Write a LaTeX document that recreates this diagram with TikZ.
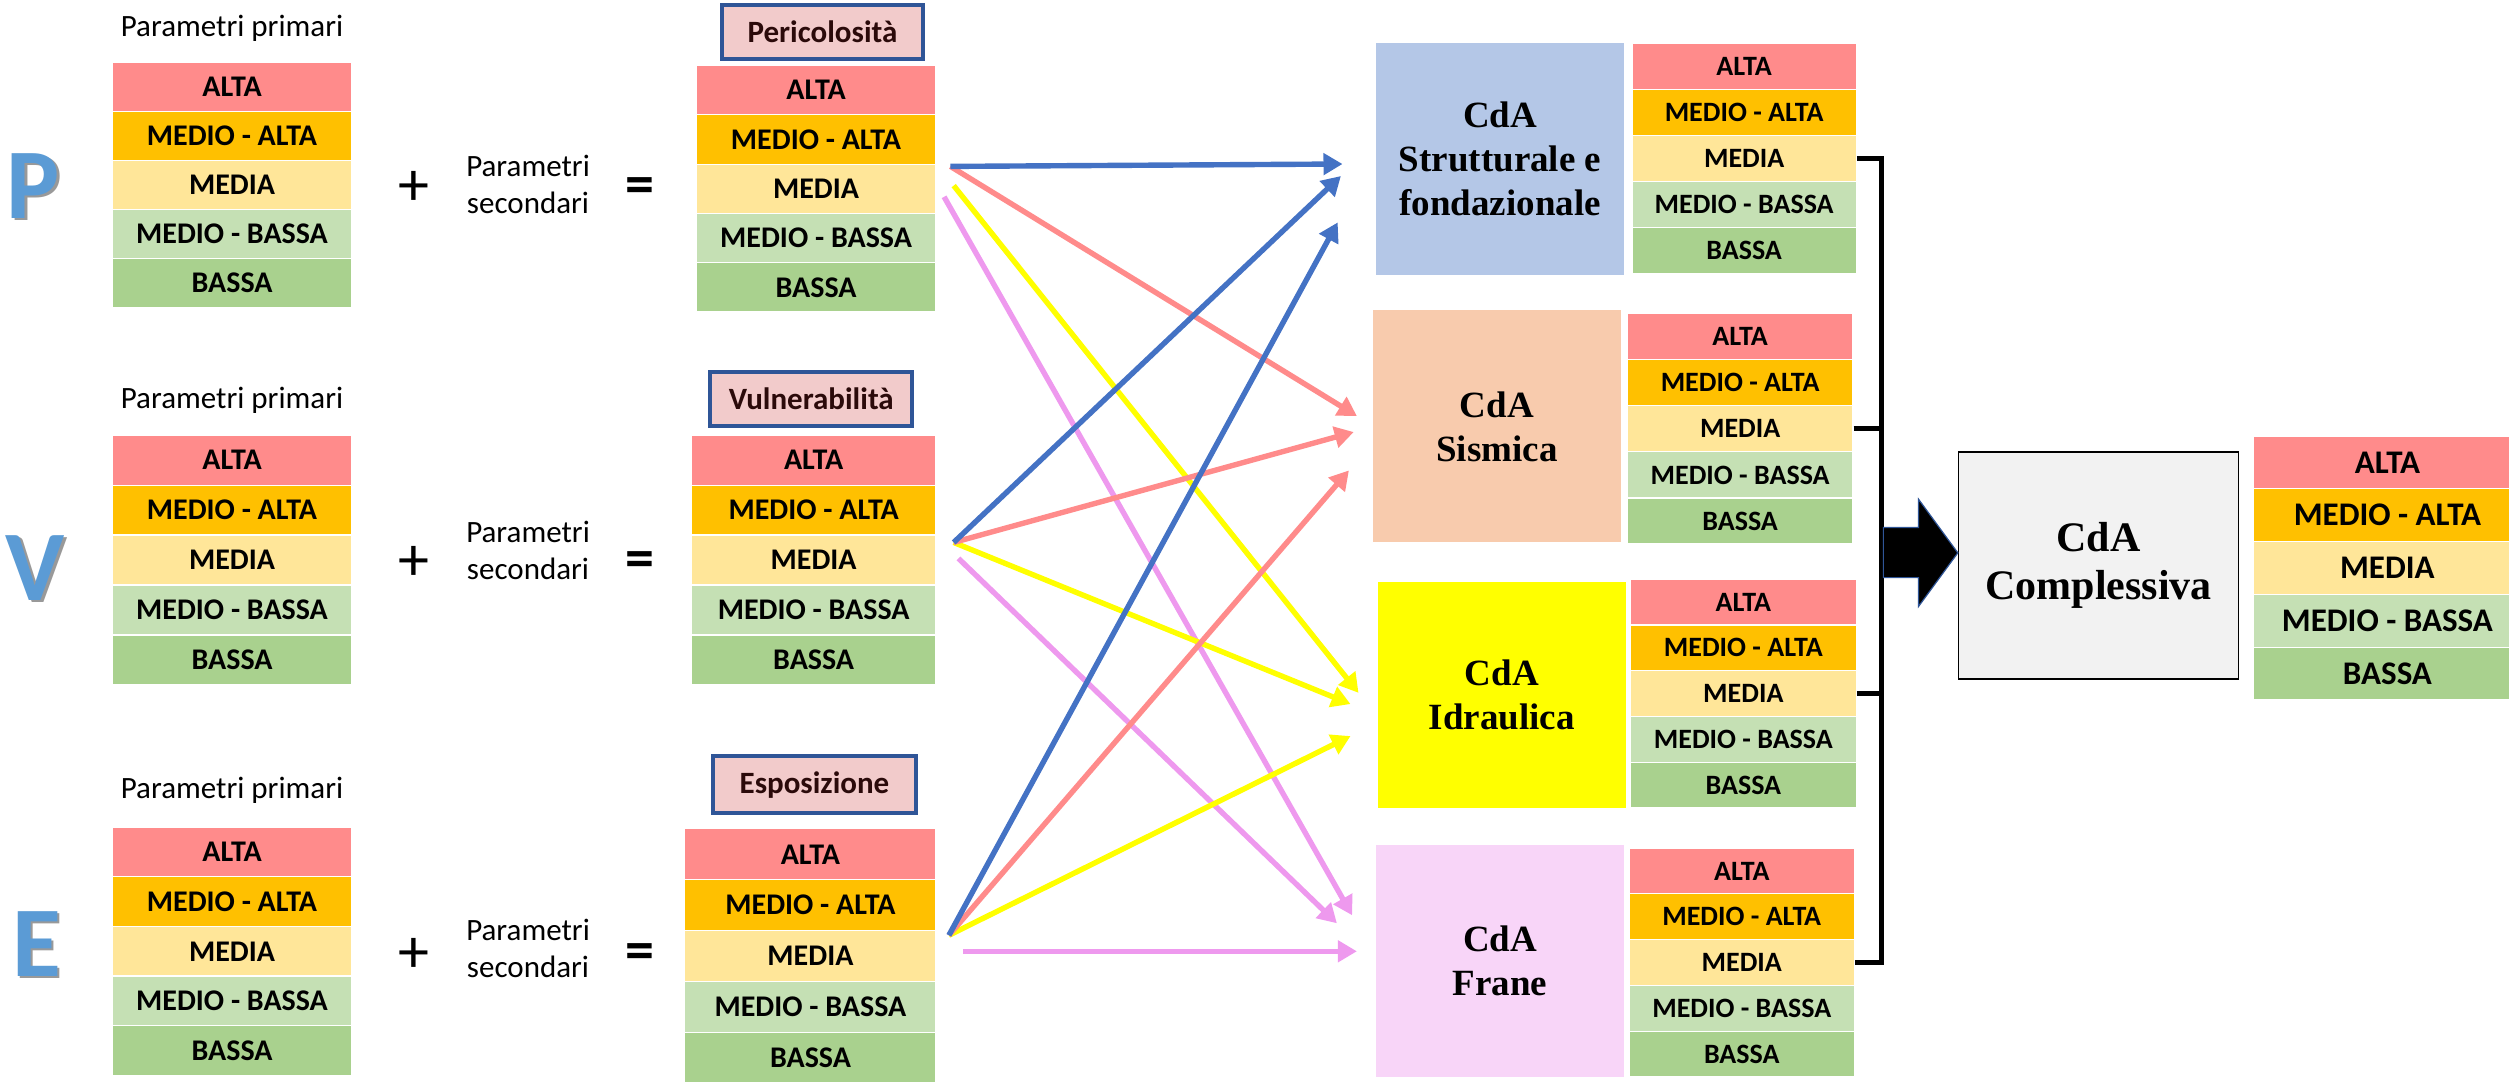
\documentclass[tikz,border=0pt]{standalone}
\usepackage{fontspec}
\setmainfont{Carlito}
\newfontfamily\tnr{Liberation Serif}
\usetikzlibrary{arrows.meta}

% level colours
\definecolor{lvA}{HTML}{FF8B8B}
\definecolor{lvMA}{HTML}{FFC000}
\definecolor{lvM}{HTML}{FFE699}
\definecolor{lvMB}{HTML}{C5E0B4}
\definecolor{lvB}{HTML}{A9D18E}
% connector colours
\definecolor{arBlue}{HTML}{4472C4}
\definecolor{arRed}{HTML}{FF8B8B}
\definecolor{arYel}{HTML}{FFFF00}
\definecolor{arVio}{HTML}{EE99EE}
% other colours
\definecolor{letterBlue}{HTML}{5B9BD5}
\definecolor{titleFill}{HTML}{F2CBCB}
\definecolor{titleEdge}{HTML}{2F5597}
\definecolor{titleText}{HTML}{2B0A0A}
\definecolor{cdaStr}{HTML}{B4C7E7}
\definecolor{cdaSis}{HTML}{F8CBAD}
\definecolor{cdaIdr}{HTML}{FFFF00}
\definecolor{cdaFra}{HTML}{F8D5F8}
\definecolor{cdaTot}{HTML}{F2F2F2}

% five-level scale: #1 name prefix, #2/#3 left/right x, #4/#5 top/bottom y, #6 font size
\newcommand\lvblock[6]{%
  \pgfmathsetmacro\lbW{(#3-#2)*1.6}%
  \pgfmathsetmacro\lbP{(#5-#4)/5}%
  \pgfmathsetmacro\lbH{\lbP*1.6}%
  \pgfmathsetmacro\lbX{(#2+#3)/2}%
  \foreach \rw/\lvc/\lvt in {1/lvA/ALTA,2/lvMA/MEDIO - ALTA,3/lvM/MEDIA,4/lvMB/MEDIO - BASSA,5/lvB/BASSA}{%
    \node[lvrow, fill=\lvc, minimum width=\lbW pt, minimum height=\lbH pt,
          font=\fontsize{#6}{#6}\selectfont\bfseries]
      (#1\rw) at (\lbX, {#4+(\rw-0.5)*\lbP}) {\lvt};
  }%
}

\begin{document}
\begin{tikzpicture}[x=1.6pt, y=-1.6pt,
  lvrow/.style={draw=white, line width=1.2pt, inner sep=0pt, text=black},
  letter/.style={font=\fontsize{100}{100}\selectfont\bfseries, inner sep=0pt},
  plain/.style={font=\fontsize{31}{37}\selectfont, inner sep=0pt, align=center},
  plus/.style={font=\fontsize{62}{62}\selectfont, inner sep=0pt},
  equal/.style={font=\fontsize{58}{58}\selectfont\bfseries, inner sep=0pt},
  title/.style={draw=titleEdge, line width=4pt, fill=titleFill, text=titleText,
                font=\fontsize{31}{31}\selectfont\bfseries, inner sep=0pt},
  cda/.style={inner sep=0pt, align=center, font=\tnr\bfseries\fontsize{37}{44}\selectfont},
  conn/.style={line width=5.4pt, -{Triangle[length=19pt,width=21pt]}},
  brk/.style={line width=5pt, line join=miter}]

\clip (0,0) rectangle (1568,676);

% ---- input letters ----
\node[letter, text=black!40] (letPs) at (22.5,117.5) {P};
\node[letter, text=letterBlue] (letP) at (21,116) {P};
\node[letter, text=black!40] (letVs) at (23.5,356.5) {V};
\node[letter, text=letterBlue] (letV) at (22,355) {V};
\node[letter, text=black!40] (letEs) at (24.5,591.5) {E};
\node[letter, text=letterBlue] (letE) at (23,590) {E};

% ---- primary parameters ----
\node[plain] (ppP) at (145,18) {Parametri primari};
\node[plain] (ppV) at (145,250) {Parametri primari};
\node[plain] (ppE) at (145,494) {Parametri primari};

\lvblock{PL}{70}{220}{39}{192}{30}
\lvblock{VL}{70}{220}{272}{428}{30}
\lvblock{EL}{70}{220}{517}{672}{30}

% ---- + secondary parameters = ----
\node[plus] (plP) at (259,118) {+};
\node[plus] (plV) at (259,352) {+};
\node[plus] (plE) at (259,597) {+};
\node[plain] (psP) at (330,115.5) {Parametri\\secondari};
\node[plain] (psV) at (330,344) {Parametri\\secondari};
\node[plain] (psE) at (330,593) {Parametri\\secondari};
\node[equal] (eqP) at (400,119) {=};
\node[equal] (eqV) at (400,353) {=};
\node[equal] (eqE) at (400,598) {=};

% ---- resulting factors ----
\node[title, minimum width=201.6pt, minimum height=54pt] (tP) at (514,20) {Pericolosità};
\node[title, minimum width=201.6pt, minimum height=54pt] (tV) at (507,249.5) {Vulnerabilità};
\node[title, minimum width=203pt, minimum height=57pt] (tE) at (509,490.5) {Esposizione};

\lvblock{PM}{435}{585}{41}{195}{30}
\lvblock{VM}{432}{585}{272}{428}{30}
\lvblock{EM}{428}{585}{518}{677}{30}

% ---- CdA boxes ----
\node[cda, fill=cdaStr, minimum width=248pt, minimum height=232pt] (cS) at (937.5,99.5)
  {CdA\\Strutturale e\\fondazionale};
\node[cda, fill=cdaSis, minimum width=248pt, minimum height=232pt] (cM) at (935.5,266.5)
  {CdA\\Sismica};
\node[cda, fill=cdaIdr, minimum width=248pt, minimum height=225.6pt] (cI) at (938.5,434.5)
  {CdA\\Idraulica};
\node[cda, fill=cdaFra, minimum width=248pt, minimum height=232pt] (cF) at (937.5,600.5)
  {CdA\\Frane};

\lvblock{S1}{1020}{1160}{27}{171}{28}
\lvblock{S2}{1017}{1158}{196}{340}{28}
\lvblock{S3}{1019}{1160}{362}{505}{28}
\lvblock{S4}{1018}{1159}{530}{673}{28}

% ---- overall CdA ----
\node[cda, draw=black, line width=1.5pt, fill=cdaTot, minimum width=280pt, minimum height=227pt,
      font=\tnr\bfseries\fontsize{42}{48}\selectfont] (cT) at (1311.5,353.5) {CdA\\Complessiva};
\lvblock{FT}{1408}{1576}{272.5}{437.5}{33}

% ---- connector end points ----
\coordinate (pO1) at (594,104);
\coordinate (pO2) at (596,116);
\coordinate (pO3) at (590,123);
\coordinate (vO1) at (596,339);
\coordinate (vO2) at (599,349);
\coordinate (eO1) at (593,584.5);
\coordinate (eO2) at (602,594.5);

\coordinate (sIn1) at (839,102.5);
\coordinate (sIn2) at (838,110);
\coordinate (sIn3) at (836,139);
\coordinate (mIn1) at (848,260);
\coordinate (mIn2) at (846,270);
\coordinate (mIn3) at (843,294);
\coordinate (iIn1) at (849,433);
\coordinate (iIn2) at (844,440);
\coordinate (iIn3) at (844,460);
\coordinate (fIn1) at (845,572);
\coordinate (fIn2) at (835.5,577);
\coordinate (fIn3) at (848,594.5);

% ---- connectors ----
\draw[conn, arVio] (pO3) -- (fIn1);
\draw[conn, arVio] (vO2) -- (fIn2);
\draw[conn, arVio] (eO2) -- (fIn3);
\draw[conn, arYel] (pO2) -- (iIn1);
\draw[conn, arYel] (vO1) -- (iIn2);
\draw[conn, arYel] (eO1) -- (iIn3);
\draw[conn, arRed] (pO1) -- (mIn1);
\draw[conn, arRed] (vO1) -- (mIn2);
\draw[conn, arRed] (eO1) -- (mIn3);
\draw[conn, arBlue] (pO1) -- (sIn1);
\draw[conn, arBlue] (vO1) -- (sIn2);
\draw[conn, arBlue] (eO1) -- (sIn3);

% ---- bracket collecting the four scales ----
\coordinate (brx) at (1176,0);
\draw[brk] (S13.east) -- (brx |- S13.east) -- (brx |- S43.east) -- (S43.east);
\draw[brk] (S23.east) -- (brx |- S23.east);
\draw[brk] (S33.east) -- (brx |- S33.east);

% ---- block arrow into the overall box ----
\draw[fill=black, draw=titleEdge, line width=1.2pt]
  (1177,329.7) -- (1199,329.7) -- (1199,312) -- (cT.west |- 0,345.5)
  -- (1199,379) -- (1199,361) -- (1177,361) -- cycle;

\end{tikzpicture}
\end{document}
